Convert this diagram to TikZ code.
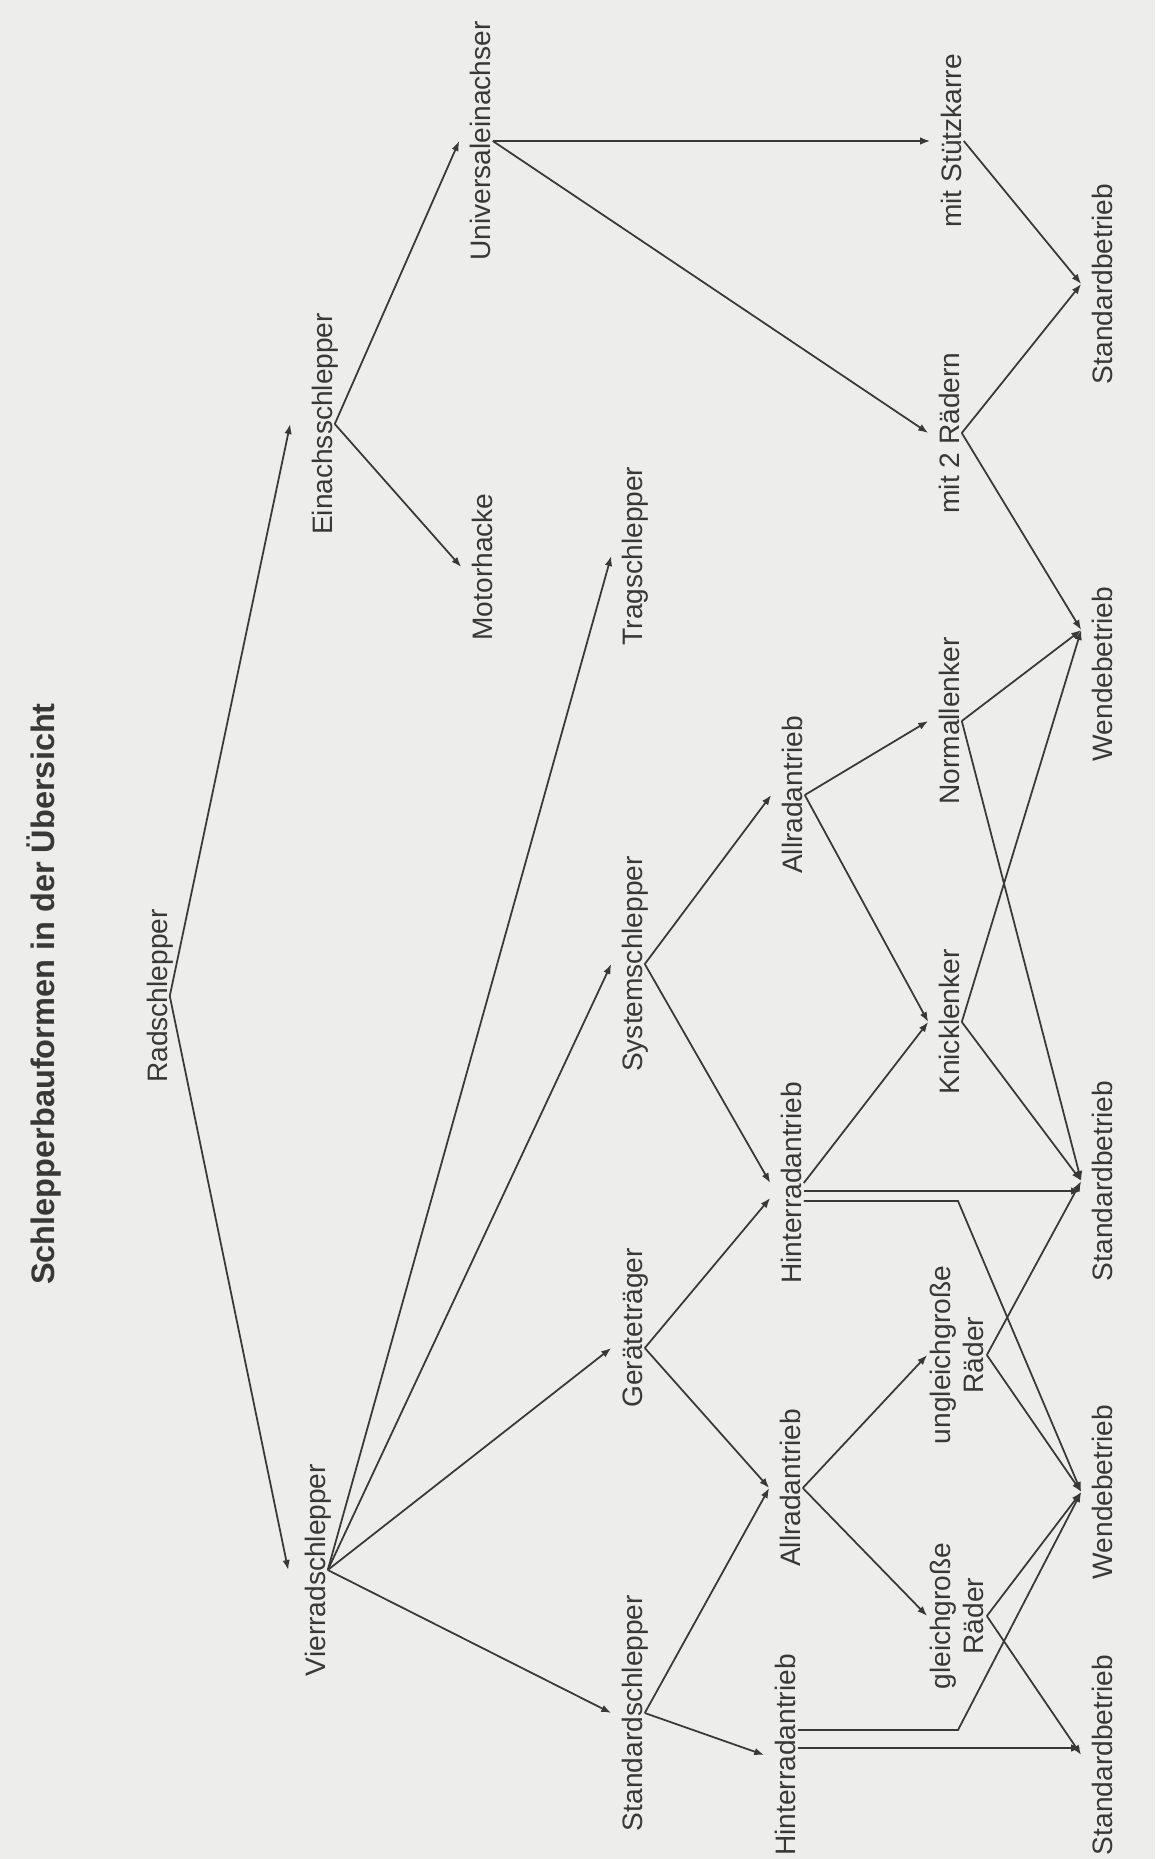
\documentclass[tikz,border=0pt]{standalone}
\usepackage{fontspec}
\setmainfont{Liberation Sans}
\usetikzlibrary{arrows.meta,calc}
\definecolor{paper}{HTML}{EDEDEB}
\definecolor{ink}{HTML}{383838}
\tikzset{
	lbl/.style={rotate=90, text=ink, font=\fontsize{16}{19}\selectfont, inner xsep=0pt, inner ysep=0pt, text height=17.6pt, text depth=1.1pt},
	twoline/.style={lbl, align=center, inner ysep=1.4pt, text height=, text depth=},
	arr/.style={draw=ink, line width=1pt, -{Latex[length=2mm,width=1.5mm]}}
}
\begin{document}
\begin{tikzpicture}[x=0.2mm, y=-0.2mm]
		\useasboundingbox (0,0) rectangle (1155,1859);
		\fill[paper] (0,0) rectangle (1155,1859);

		\node[rotate=90, text=ink, font=\fontsize{18.5}{22}\selectfont\bfseries] (title) at (44,994) {Schlepperbauformen in der Übersicht};

		\node[lbl] (rad) at (153,996) {Radschlepper};

		\node[lbl] (einachs) at (318,424) {Einachsschlepper};
		\node[lbl] (vierrad) at (311,1570) {Vierradschlepper};

		\node[lbl] (univ) at (476,141) {Universaleinachser};
		\node[lbl] (motor) at (478,567) {Motorhacke};

		\node[lbl] (trag) at (628,556) {Tragschlepper};
		\node[lbl] (system) at (628,964) {Systemschlepper};
		\node[lbl] (geraet) at (628,1328) {Geräteträger};
		\node[lbl] (stdschl) at (628,1713) {Standardschlepper};

		\node[lbl] (allrad1) at (788,795) {Allradantrieb};
		\node[lbl] (hin1) at (787,1183) {Hinterradantrieb};
		\node[lbl] (allrad2) at (786,1488) {Allradantrieb};
		\node[lbl] (hin2) at (781,1755) {Hinterradantrieb};

		\node[lbl] (stuetz) at (947,141) {mit Stützkarre};
		\node[lbl] (zwei) at (945,433) {mit 2 Rädern};
		\node[lbl] (normal) at (945,721) {Normallenker};
		\node[lbl] (knick) at (945,1022) {Knicklenker};
		\node[twoline] (ungleich) at (957,1355) {ungleichgroße\\Räder};
		\node[twoline] (gleich) at (957,1616) {gleichgroße\\Räder};

		\node[lbl] (std1) at (1098,284) {Standardbetrieb};
		\node[lbl] (wend1) at (1098,674) {Wendebetrieb};
		\node[lbl] (std2) at (1098,1181) {Standardbetrieb};
		\node[lbl] (wend2) at (1098,1492) {Wendebetrieb};
		\node[lbl] (std3) at (1098,1755) {Standardbetrieb};

		\coordinate (einachsin) at ($(einachs.north)+(-11,0)$);
		\coordinate (vierradin) at ($(vierrad.north)+(-6,0)$);
		\coordinate (wend1in) at ($(wend1.north)+(0,-44)$);
		\coordinate (geraetin) at ($(geraet.north)+(0,20)$);
		\coordinate (geraetout) at ($(geraet.south)+(0,20)$);
		\coordinate (bend1) at (958,1201);
		\coordinate (bend2) at (958,1730);

		\draw[arr] (rad.south) -- (einachsin);
		\draw[arr] (rad.south) -- (vierradin);

		\draw[arr] (einachs.south) -- (univ.north);
		\draw[arr] (einachs.south) -- (motor.north);
		\draw[arr] (univ.south) -- (univ.south -| stuetz.north);
		\draw[arr] (univ.south) -- (zwei.north);
		\draw[arr] (stuetz.south) -- (std1.north);
		\draw[arr] (zwei.south) -- (std1.north);
		\draw[arr] (zwei.south) -- (wend1in);

		\draw[arr] (vierrad.south) -- (trag.north);
		\draw[arr] (vierrad.south) -- (system.north);
		\draw[arr] (vierrad.south) -- (geraetin);
		\draw[arr] (vierrad.south) -- (stdschl.north);

		\draw[arr] (system.south) -- (allrad1.north);
		\draw[arr] (system.south) -- (hin1.north);
		\draw[arr] (geraetout) -- ($(hin1.north)+(0,15)$);
		\draw[arr] (geraetout) -- (allrad2.north);
		\draw[arr] (stdschl.south) -- (allrad2.north);
		\draw[arr] (stdschl.south) -- (hin2.north);

		\draw[arr] (allrad1.south) -- (normal.north);
		\draw[arr] (allrad1.south) -- (knick.north);
		\draw[arr] (hin1.south) -- (knick.north);
		\draw[arr] ($(hin1.south)+(0,8)$) coordinate (h1) -- (h1 -| std2.north);
		\draw[arr] (bend1 -| hin1.south) -- (bend1) -- (wend2.north);

		\draw[arr] (normal.south) -- (wend1in);
		\draw[arr] (normal.south) -- (std2.north);
		\draw[arr] (knick.south) -- (wend1in);
		\draw[arr] (knick.south) -- (std2.north);

		\draw[arr] (allrad2.south) -- (ungleich.north);
		\draw[arr] (allrad2.south) -- (gleich.north);
		\draw[arr] (ungleich.south) -- (std2.north);
		\draw[arr] (ungleich.south) -- (wend2.north);
		\draw[arr] (gleich.south) -- (wend2.north);
		\draw[arr] (gleich.south) -- (std3.north);

		\draw[arr] (bend2 -| hin2.south) -- (bend2) -- (wend2.north);
		\draw[arr] ($(hin2.south)+(0,-7)$) coordinate (h2) -- (h2 -| std3.north);
	\end{tikzpicture}
\end{document}
